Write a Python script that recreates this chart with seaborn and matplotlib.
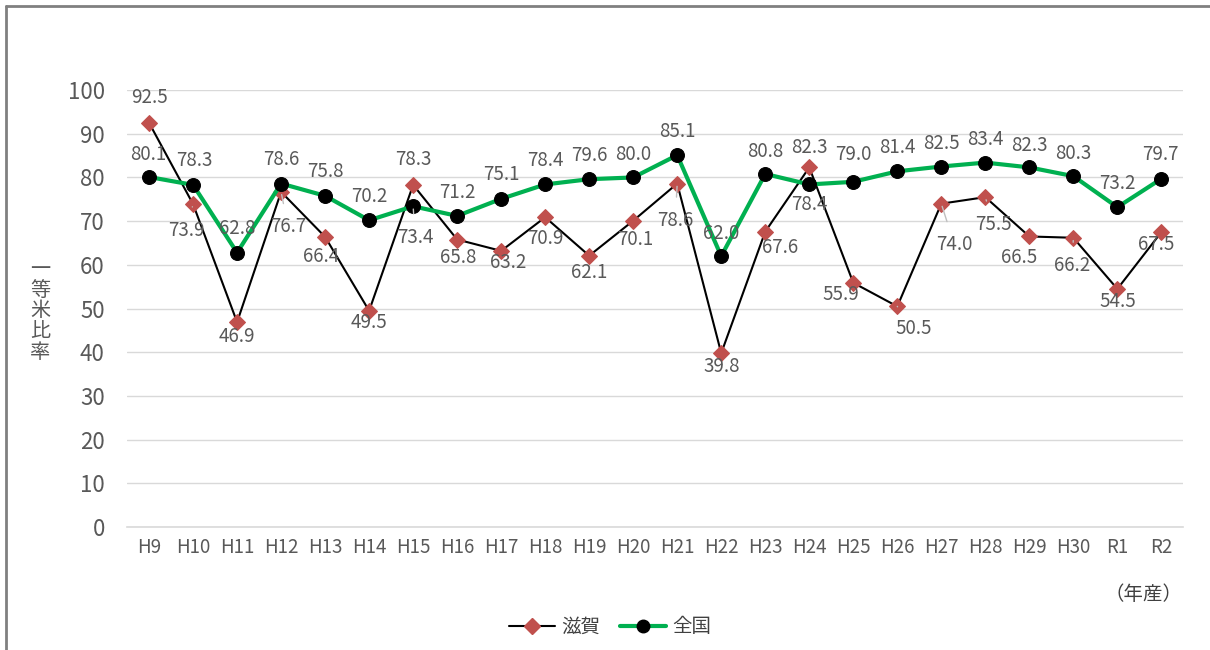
import pandas as pd
import seaborn as sns
import matplotlib.pyplot as plt
from matplotlib.lines import Line2D

# data
years = ['H9', 'H10', 'H11', 'H12', 'H13', 'H14', 'H15', 'H16', 'H17', 'H18', 'H19', 'H20',
         'H21', 'H22', 'H23', 'H24', 'H25', 'H26', 'H27', 'H28', 'H29', 'H30', 'R1', 'R2']
shiga = [92.5, 73.9, 46.9, 76.7, 66.4, 49.5, 78.3, 65.8, 63.2, 70.9, 62.1, 70.1,
         78.6, 39.8, 67.6, 82.3, 55.9, 50.5, 74.0, 75.5, 66.5, 66.2, 54.5, 67.5]
zenkoku = [80.1, 78.3, 62.8, 78.6, 75.8, 70.2, 73.4, 71.2, 75.1, 78.4, 79.6, 80.0,
           85.1, 62.0, 80.8, 78.4, 79.0, 81.4, 82.5, 83.4, 82.3, 80.3, 73.2, 79.7]

# label placement (pixel offsets, +dy = below) and which labels get a leader line
shiga_off = [(0, -25), (-7, 26), (0, 14), (7, 35), (-4, 20), (0, 12), (0, -25), (1, 18),
             (7, 12), (0, 21), (0, 17), (2, 19), (-2, 37), (0, 13), (15, 16), (0, -20),
             (-12, 12), (16, 22), (13, 41), (8, 27), (-10, 21), (-1, 28), (0, 13), (-5, 12)]
shiga_lead = {1, 3, 12, 17, 18, 19, 21}
zenkoku_off = [(-1, -23), (1, -24), (0, -24), (0, -24), (0, -24), (0, -24), (2, 31), (0, -23),
               (0, -24), (0, -24), (0, -24), (0, -23), (0, -24), (0, -23), (0, -22), (0, 20),
               (0, -27), (0, -24), (0, -23), (0, -23), (0, -22), (0, -23), (0, -24), (-1, -24)]
zenkoku_lead = {6}

sns.set_theme(style='white')
plt.rcParams['font.family'] = ['Noto Sans CJK JP', 'DejaVu Sans']

df = pd.DataFrame({'year': years, '滋賀': shiga, '全国': zenkoku})

fig = plt.figure(figsize=(12.1, 6.5), dpi=100)
ax = fig.add_axes([0.105, 0.189, 0.873, 0.6725])

sns.lineplot(data=df, x='year', y='滋賀', sort=False, ax=ax, color='black', linewidth=1.5,
             marker='D', markersize=8, markerfacecolor='#C0504D', markeredgecolor='#C0504D',
             zorder=3, label='滋賀')
sns.lineplot(data=df, x='year', y='全国', sort=False, ax=ax, color='#00B050', linewidth=3,
             marker='o', markersize=10, markerfacecolor='black', markeredgecolor='black',
             zorder=4, label='全国')

label_color = '#595959'
for vals, offs, leads in [(shiga, shiga_off, shiga_lead), (zenkoku, zenkoku_off, zenkoku_lead)]:
    for i, v in enumerate(vals):
        dx, dy = offs[i]
        arrow = dict(arrowstyle='-', color='#bfbfbf', lw=1, shrinkA=7, shrinkB=2) if i in leads else None
        ax.annotate(f'{v:.1f}', xy=(i, v), xytext=(dx, -dy), textcoords='offset pixels',
                    ha='center', va='center', fontsize=13.5, color=label_color,
                    arrowprops=arrow, zorder=5)

ax.set_ylim(0, 100)
ax.set_yticks(range(0, 101, 10))
ax.set_xlim(-0.5, len(years) - 0.5)
ax.set_xlabel('')
ax.set_ylabel('')
ax.grid(axis='y', color='#d9d9d9', linewidth=1)
ax.grid(axis='x', visible=False)
for s in ['left', 'right', 'top']:
    ax.spines[s].set_visible(False)
ax.spines['bottom'].set_color('#d9d9d9')
ax.spines['bottom'].set_linewidth(1.2)
ax.tick_params(axis='y', labelsize=16, labelcolor=label_color, length=0, pad=16)
ax.tick_params(axis='x', labelsize=13.5, labelcolor=label_color, direction='in',
               length=4, color='#d9d9d9', pad=7)
ax.set_xticks(list(range(len(years))) + [len(years) - 0.5])
ax.set_xticklabels(years + [''])

fig.text(40 / 1210, 1 - 311 / 650, '\n'.join('一等米比率'), fontsize=14.5, color=label_color,
         ha='center', va='center', linespacing=1.0)
fig.text(1182 / 1210, 1 - 594 / 650, '（年産）', fontsize=14, color='#404040',
         ha='right', va='center')

ax.get_legend().remove()
handles = [Line2D([], [], color='black', lw=1.5, marker='D', markersize=8,
                  markerfacecolor='#C0504D', markeredgecolor='#C0504D'),
           Line2D([], [], color='#00B050', lw=3, marker='o', markersize=9,
                  markerfacecolor='black', markeredgecolor='black')]
fig.legend(handles, ['滋賀', '全国'], loc='center', bbox_to_anchor=(610 / 1210, 1 - 627 / 650),
           ncol=2, frameon=False, fontsize=14, handlelength=2.4, handletextpad=0.3,
           columnspacing=1.0, labelcolor='#404040')

# outer frame (top and left edges are visible in the crop)
fig.add_artist(Line2D([6 / 1210, 6 / 1210], [0, 1 - 6 / 650], transform=fig.transFigure,
                      color='#808080', lw=2))
fig.add_artist(Line2D([6 / 1210, 1], [1 - 6 / 650, 1 - 6 / 650], transform=fig.transFigure,
                      color='#808080', lw=2))

fig.savefig('out.png', dpi=100, facecolor='white')
